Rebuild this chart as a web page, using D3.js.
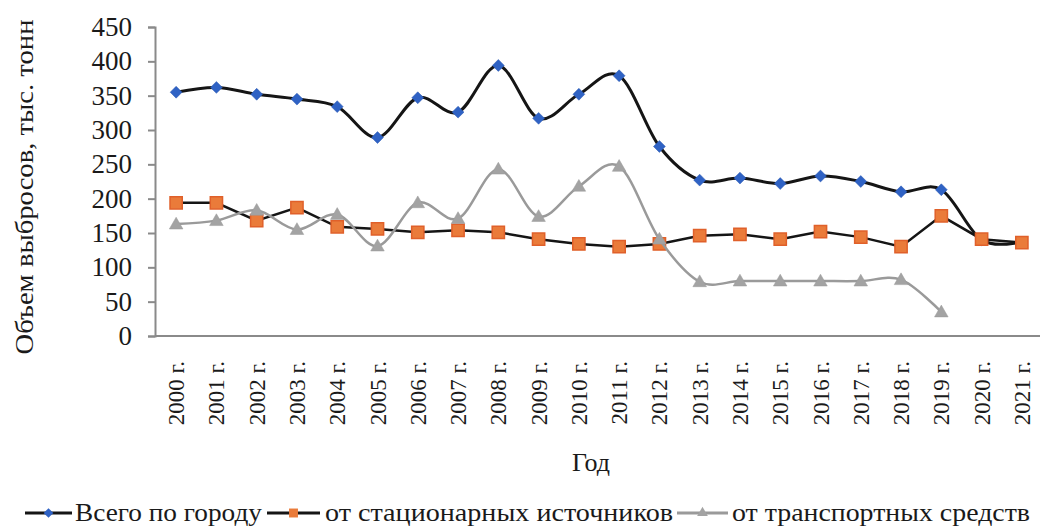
<!DOCTYPE html>
<html><head><meta charset="utf-8">
<script src="https://cdn.jsdelivr.net/npm/d3@7"></script>
<style>body{margin:0;background:#fff}svg{display:block}</style>
</head><body><svg id="c" width="1040" height="527"></svg>
<script>
const years = ["2000 г.","2001 г.","2002 г.","2003 г.","2004 г.","2005 г.","2006 г.","2007 г.","2008 г.","2009 г.","2010 г.","2011 г.","2012 г.","2013 г.","2014 г.","2015 г.","2016 г.","2017 г.","2018 г.","2019 г.","2020 г.","2021 г."];
const total = [355,362,352,345,334,289,347,326,394,317,352,379,276,227,230,222,233,225,210,213,140,137];
const stationary = [194,194,168,187,159,156,151,154,151,141,134,130,134,146,148,141,152,144,130,175,141,136];
const transport = [163,168,183,155,177,131,194,171,243,174,218,247,141,79,80,80,80,80,82,35,null,null];
const yTicks = [0,50,100,150,200,250,300,350,400,450];
const seriesNames = ["Всего по городу","от стационарных источников","от транспортных средств"];

const FONT = "'Liberation Serif','DejaVu Serif',serif";
const svg = d3.select("#c");
const x = d3.scaleBand().domain(years).range([156,1042]);
const y = d3.scaleLinear().domain([0,450]).range([336,27]);
const cx = d => x(d) + x.bandwidth()/2;

// y axis
const ya = svg.append("g").attr("transform","translate(155,0)")
  .call(d3.axisLeft(y).tickValues(yTicks).tickSize(7).tickPadding(16));
ya.select(".domain").attr("stroke","#8a8a8a").attr("stroke-width",2);
ya.selectAll(".tick line").attr("stroke","#8a8a8a").attr("stroke-width",2);
ya.selectAll(".tick text").style("font-family",FONT).style("font-size","27px").attr("fill","#1a1a1a");

// x axis
const xa = svg.append("g").attr("transform","translate(0,336)")
  .call(d3.axisBottom(x).tickSize(0).tickPadding(0));
xa.select(".domain").attr("stroke","#8a8a8a").attr("stroke-width",2).attr("d","M155,0H1042");
xa.selectAll(".tick text").style("font-family",FONT).style("font-size","23px").attr("fill","#1a1a1a")
  .attr("transform","rotate(-90)").attr("text-anchor","end").attr("dy","0.35em").attr("x",-25).attr("y",0);

// axis titles
svg.append("text").attr("transform","translate(33,187) rotate(-90)").attr("text-anchor","middle")
  .style("font-family",FONT).style("font-size","26px").attr("fill","#1a1a1a")
  .attr("textLength",335).attr("lengthAdjust","spacingAndGlyphs").text("Объем выбросов, тыс. тонн");
svg.append("text").attr("x",591).attr("y",471).attr("text-anchor","middle")
  .style("font-family",FONT).style("font-size","26px").attr("fill","#1a1a1a").text("Год");

const smooth = d3.line().defined(d=>d[1]!=null).x(d=>cx(d[0])).y(d=>y(d[1])).curve(d3.curveCardinal.tension(0));
const straight = d3.line().defined(d=>d[1]!=null).x(d=>cx(d[0])).y(d=>y(d[1]));
const zip = arr => years.map((yr,i)=>[yr,arr[i]]);

const diamond = d3.symbol().type(d3.symbolDiamond2).size(90);
const square = d3.symbol().type(d3.symbolSquare).size(150);
const tri = d3.symbol().type(d3.symbolTriangle).size(80);

// total
svg.append("path").attr("d",smooth(zip(total))).attr("fill","none").attr("stroke","#151515").attr("stroke-width",3);
svg.append("g").selectAll("path").data(zip(total)).join("path")
  .attr("d",diamond).attr("transform",d=>`translate(${cx(d[0])},${y(d[1])})`).attr("fill","#2f62c4").attr("stroke","#2a58b0").attr("stroke-width",0.5);
// stationary
svg.append("path").attr("d",straight(zip(stationary))).attr("fill","none").attr("stroke","#151515").attr("stroke-width",2.5);
svg.append("g").selectAll("path").data(zip(stationary)).join("path")
  .attr("d",square).attr("transform",d=>`translate(${cx(d[0])},${y(d[1])})`).attr("fill","#ea7b3a").attr("stroke","#e0602a").attr("stroke-width",1.5);
// transport
svg.append("path").attr("d",smooth(zip(transport))).attr("fill","none").attr("stroke","#9a9a9a").attr("stroke-width",2.5);
svg.append("g").selectAll("path").data(zip(transport).filter(d=>d[1]!=null)).join("path")
  .attr("d",tri).attr("transform",d=>`translate(${cx(d[0])},${y(d[1])+1})`).attr("fill","#a3a3a3").attr("stroke","#9a9a9a").attr("stroke-width",0.5);

// legend
const leg = [
  {x0:25, x1:72, tx:75, tw:187, stroke:"#151515", fill:"#2f62c4"},
  {x0:267, x1:320, tx:325, tw:348, stroke:"#151515", fill:"#ea7b3a"},
  {x0:677, x1:728, tx:732, tw:298, stroke:"#9a9a9a", fill:"#a3a3a3"}
];
const syms = [d3.symbolDiamond2, d3.symbolSquare, d3.symbolTriangle];
const symSizes = [60, 80, 50];
const lg = svg.append("g");
leg.forEach((l,i)=>{
  lg.append("line").attr("x1",l.x0).attr("x2",l.x1).attr("y1",513).attr("y2",513).attr("stroke",l.stroke).attr("stroke-width",3);
  lg.append("path").attr("d",d3.symbol().type(syms[i]).size(symSizes[i]))
    .attr("transform",`translate(${(l.x0+l.x1)/2},513)`).attr("fill",l.fill);
  lg.append("text").attr("x",l.tx).attr("y",521).style("font-family",FONT).style("font-size","25px").attr("fill","#1a1a1a")
    .attr("textLength",l.tw).attr("lengthAdjust","spacingAndGlyphs").text(seriesNames[i]);
});
</script></body></html>
